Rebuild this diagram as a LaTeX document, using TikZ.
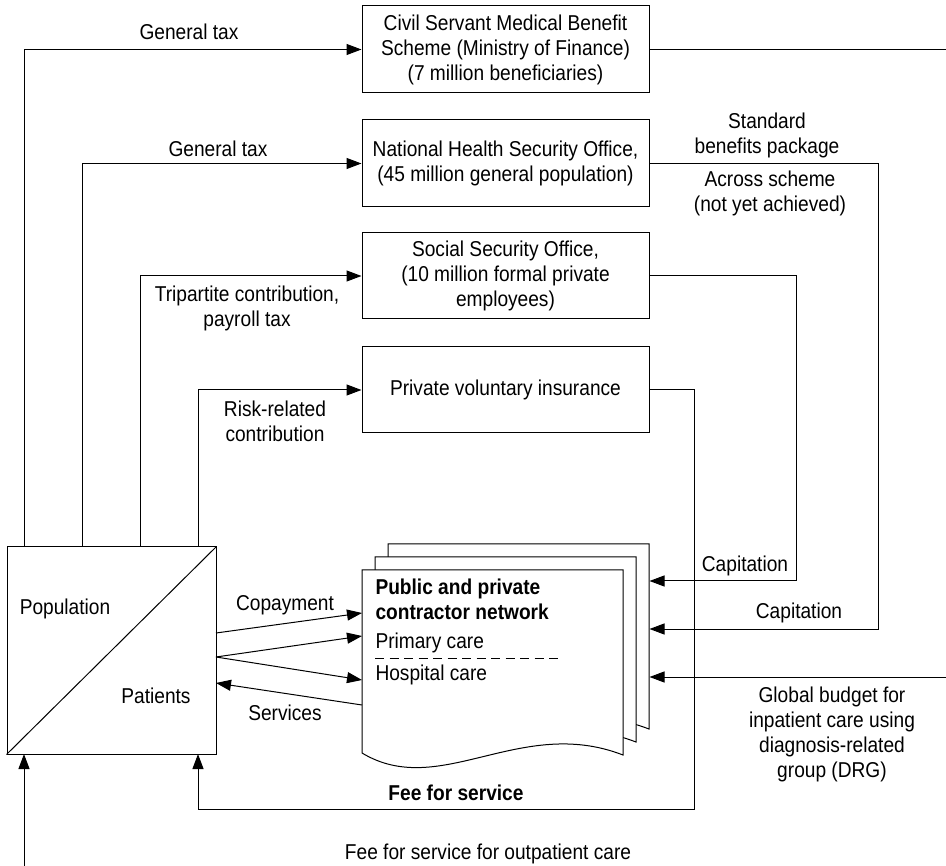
\documentclass[tikz,border=0pt]{standalone}
\usepackage{fontspec}
\setmainfont[FakeStretch=0.89]{Liberation Sans}
\usetikzlibrary{arrows.meta}
\newcommand\lblfont{\fontsize{21.5}{25}\selectfont}
\begin{document}
\begin{tikzpicture}[x=1pt,y=-1pt,line width=1pt,
  arr/.style={-{Triangle[length=15pt,width=11pt]}},
  box/.style={draw,minimum width=287pt,minimum height=87pt,inner sep=0pt,align=center,font=\lblfont},
  lbl/.style={font=\lblfont,inner sep=0pt,align=center},
  page/.style={draw,fill=white}]
\useasboundingbox (0,0) rectangle (946,866);

% scheme boxes
\node[box] (cs) at (505.5,49.5) {Civil Servant Medical Benefit\\Scheme (Ministry of Finance)\\(7 million beneficiaries)};
\node[box] (nh) at (505.5,163.5) {National Health Security Office,\\(45 million general population)};
\node[box,minimum height=86pt] (ss) at (505.5,276) {Social Security Office,\\(10 million formal private\\employees)};
\node[box,minimum height=86pt] (pv) at (505.5,390) {Private voluntary insurance};

% population box
\node[draw,minimum width=209pt,minimum height=207pt,inner sep=0pt] (pop) at (111.5,650.5) {};
\draw (pop.south west) -- (pop.north east);
\node[lbl,anchor=base] (popl) at (65,614) {Population};
\node[lbl,anchor=base] (pat) at (156,703) {Patients};

% contractor network pages
\foreach \d in {26,13,0}{
  \draw[page] (362+\d,753-\d) -- (362+\d,570-\d) -- (623+\d,570-\d) -- (623+\d,755-\d)
    .. controls (520+\d,715-\d) and (440+\d,800-\d) .. cycle;
}
\node[minimum width=261pt,minimum height=183pt,inner sep=0pt] (front) at (492.5,661.5) {};
\node[minimum width=261pt,minimum height=185pt,inner sep=0pt] (back) at (518.5,636.5) {};
\node[lbl,anchor=north west,align=left,font=\lblfont\bfseries] (net) at (375,578) {Public and private\\contractor network};
\node[lbl,anchor=base west] (prim) at (375,648) {Primary care};
\node[lbl,anchor=base west] (hosp) at (375,680) {Hospital care};
\coordinate (d1) at (375,658);
\coordinate (d2) at (560,658);
\draw[line width=1pt,dash pattern=on 9pt off 5.5pt] (d1) -- (d2);

% coordinates
\coordinate (p1) at (24,547);
\coordinate (p2) at (82,547);
\coordinate (p3) at (140,547);
\coordinate (p4) at (198,547);
\coordinate (pb1) at (24,754);
\coordinate (pb4) at (198,754);
\coordinate (eR) at (946,49.5);
\coordinate (ebot) at (24,866);
\coordinate (eglob) at (946,677);
\coordinate (c1) at (796,581);
\coordinate (c2) at (878,629);
\coordinate (c3) at (694,809);
\coordinate (a1) at (216,633);
\coordinate (a2) at (216,657);
\coordinate (a3) at (216,683);
\coordinate (f1) at (362,613);
\coordinate (f2) at (362,636);
\coordinate (f3) at (362,680);
\coordinate (f4) at (362,705);

% contributions
\draw[arr] (p1) |- (cs.west);
\draw[arr] (p2) |- (nh.west);
\draw[arr] (p3) |- (ss.west);
\draw[arr] (p4) |- (pv.west);
\node[lbl,anchor=base] (gt1) at (189,40) {General tax};
\node[lbl,anchor=base] (gt2) at (218,157) {General tax};
\node[lbl,anchor=north] (trip) at (247,285) {Tripartite contribution,\\payroll tax};
\node[lbl,anchor=north] (risk) at (275,400) {Risk-related\\contribution};

% payments to providers
\draw (cs.east) -- (eR);
\draw[arr] (nh.east) -| (c2) -- (c2 -| back.east);
\draw[arr] (ss.east) -| (c1) -- (c1 -| back.east);
\draw[arr] (eglob) -- (eglob -| back.east);
\draw[arr] (pv.east) -| (c3) -| (pb4);
\draw[arr] (ebot) -- (pb1);
\node[lbl,anchor=north] (std) at (767,112) {Standard\\benefits package};
\node[lbl,anchor=north] (acr) at (770,170) {Across scheme\\(not yet achieved)};
\node[lbl,anchor=base] (cap1) at (745,572) {Capitation};
\node[lbl,anchor=base] (cap2) at (799,619) {Capitation};
\node[lbl,anchor=north] (glob) at (832,686) {Global budget for\\inpatient care using\\diagnosis-related\\group (DRG)};
\node[lbl,anchor=base,font=\lblfont\bfseries] (ffs) at (456,800) {Fee for service};
\node[lbl,anchor=base] (ffso) at (488,859) {Fee for service for outpatient care};

% patient flows
\draw[arr] (a1) -- (f1);
\draw[arr] (a2) -- (f2);
\draw[arr] (a2) -- (f3);
\draw[arr] (f4) -- (a3);
\node[lbl,anchor=base] (copay) at (285,610) {Copayment};
\node[lbl,anchor=base] (serv) at (285,720) {Services};
\end{tikzpicture}
\end{document}
